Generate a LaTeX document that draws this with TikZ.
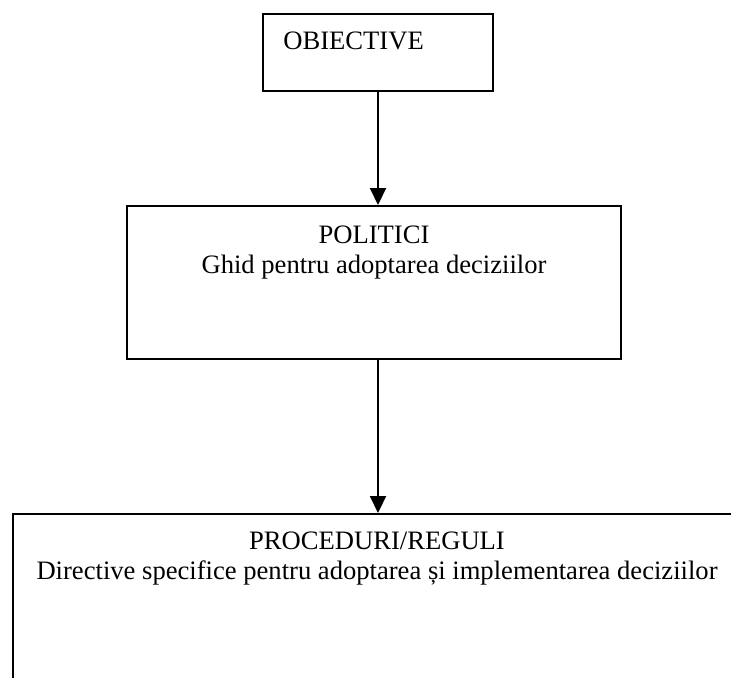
\documentclass[tikz,border=0pt]{standalone}
\usepackage{fontspec}
\setmainfont{Liberation Serif}
\usetikzlibrary{arrows.meta}
\begin{document}
\begin{tikzpicture}[x=0.5pt,y=-0.5pt,
  boxstyle/.style={draw=black, line width=1pt, rectangle, inner sep=0pt, anchor=north west},
  txt/.style={font=\fontsize{13.3}{15}\selectfont, inner sep=0pt, anchor=base},
  arr/.style={line width=1pt, -{Triangle[length=8.5pt,width=8pt]}}]
\useasboundingbox (0,0) rectangle (731,677);
\clip (0,0) rectangle (731,677);
% boxes
\node[boxstyle, minimum width=115pt, minimum height=38.5pt] (obj) at (262,13) {};
\node[boxstyle, minimum width=247pt, minimum height=76.5pt] (pol) at (126,205) {};
\node[boxstyle, minimum width=400pt, minimum height=150pt] (proc) at (12,513) {};
% texts
\node[txt, anchor=base west] (objt) at (283,49) {OBIECTIVE};
\node[txt] (polt1) at (374,243) {POLITICI};
\node[txt] (polt2) at (374,273) {Ghid pentru adoptarea deciziilor};
\node[txt] (proct1) at (377,549) {PROCEDURI/REGULI};
\node[txt] (proct2) at (377,579) {Directive specifice pentru adoptarea și implementarea deciziilor};
% arrows
\draw[arr] (obj.south) -- (obj.south |- pol.north);
\draw[arr] (pol.south -| obj.south) -- (proc.north -| obj.south);
\end{tikzpicture}
\end{document}
